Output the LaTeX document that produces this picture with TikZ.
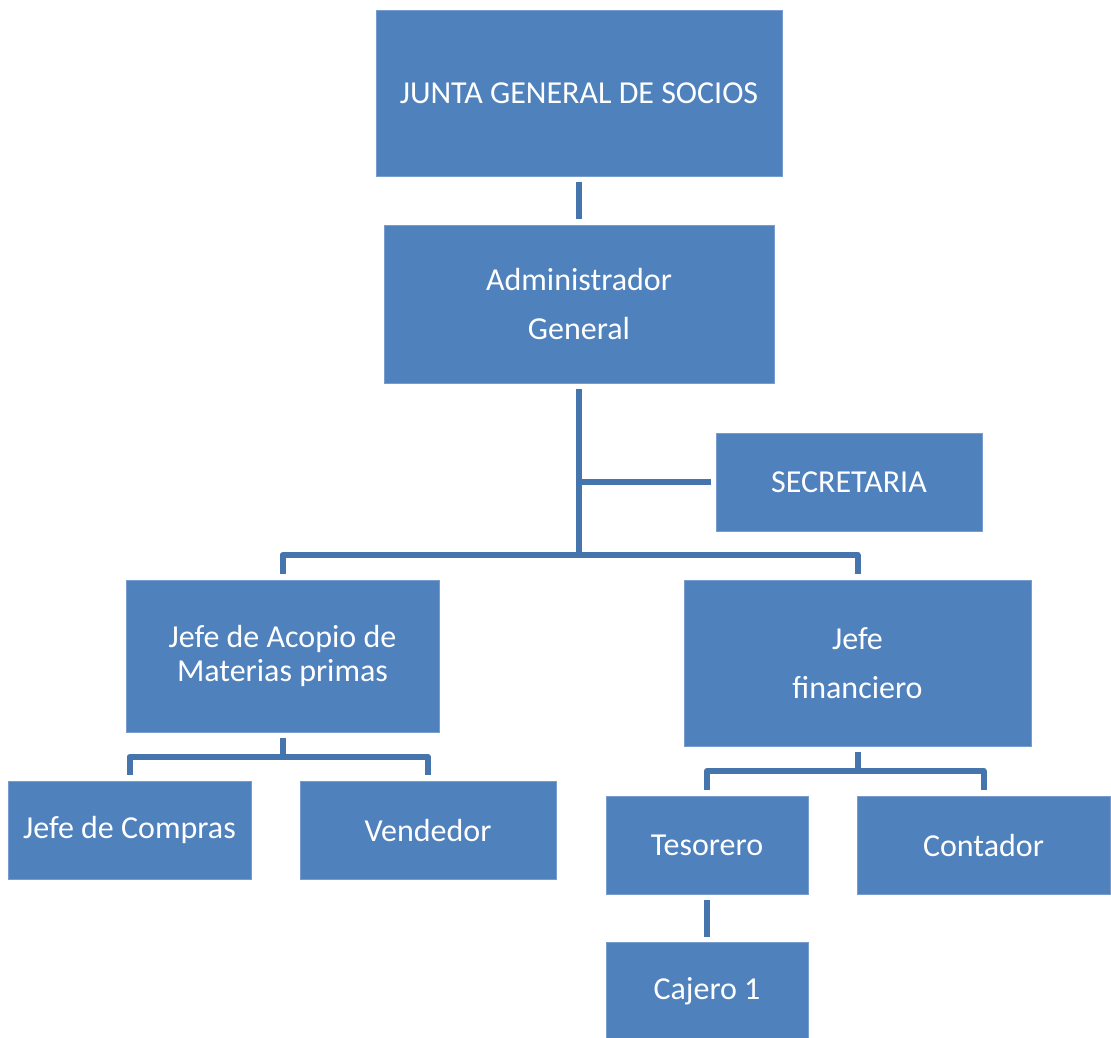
\documentclass[tikz,border=0pt]{standalone}
\usepackage{fontspec}
\setmainfont{Carlito}
\definecolor{boxblue}{RGB}{79,129,189}
\definecolor{boxedge}{RGB}{120,156,206}
\definecolor{linkblue}{RGB}{70,117,174}
\begin{document}
\begin{tikzpicture}[x=1pt,y=-1pt,
  orgbox/.style={rectangle, fill=boxblue, draw=boxedge, line width=0.8pt, inner sep=0pt,
    text=white, align=center, font=\fontsize{32}{49}\selectfont},
  tight/.style={font=\fontsize{32}{34}\selectfont},
  conn/.style={draw=linkblue, line width=6pt, line join=round}]
\useasboundingbox (0,0) rectangle (1111,1037);
\fill[white] (0,0) rectangle (1111,1037);
\begin{scope}
\clip (0,0) rectangle (1111,1037);
\node[orgbox, minimum width=406pt, minimum height=166pt] (junta) at (579,93) {JUNTA GENERAL DE SOCIOS};
\node[orgbox, minimum width=390pt, minimum height=158pt] (admin) at (579,304) {Administrador\\General};
\node[orgbox, minimum width=266pt, minimum height=98pt] (secre) at (849,482) {SECRETARIA};
\node[orgbox, tight, minimum width=313pt, minimum height=152pt] (acopio) at (282.5,656) {Jefe de Acopio de\\Materias primas};
\node[orgbox, minimum width=347pt, minimum height=166pt] (fin) at (857.5,663) {Jefe\\financiero};
\node[orgbox, minimum width=243pt, minimum height=98pt] (compras) at (129.5,830) {Jefe de Compras};
\node[orgbox, minimum width=256pt, minimum height=98pt] (vend) at (428,830) {Vendedor};
\node[orgbox, minimum width=202pt, minimum height=98pt] (teso) at (707,845) {Tesorero};
\node[orgbox, minimum width=253pt, minimum height=98pt] (cont) at (983.5,845) {Contador};
\node[orgbox, minimum width=202pt, minimum height=98pt] (cajero) at (707,991.5) {Cajero 1};
\end{scope}
\coordinate (hub) at (579,555);
\coordinate (hubA) at (282.5,757);
\coordinate (hubF) at (857.5,771);
% connectors
\draw[conn, shorten <=6pt, shorten >=6pt] (junta.south) -- (admin.north);
\draw[conn, shorten <=6pt] (admin.south) -- (hub);
\draw[conn, shorten >=5pt] (admin.south |- secre.west) -- (secre.west);
\draw[conn, shorten <=6pt, shorten >=6pt] (acopio.north) |- (hub) -| (fin.north);
\draw[conn, shorten <=6pt] (acopio.south) -- (hubA);
\draw[conn, shorten <=6pt, shorten >=6pt] (compras.north) |- (hubA) -| (vend.north);
\draw[conn, shorten <=6pt] (fin.south) -- (hubF);
\draw[conn, shorten <=6pt, shorten >=6pt] (teso.north) |- (hubF) -| (cont.north);
\draw[conn, shorten <=6pt, shorten >=5pt] (teso.south) -- (cajero.north);
\end{tikzpicture}
\end{document}
